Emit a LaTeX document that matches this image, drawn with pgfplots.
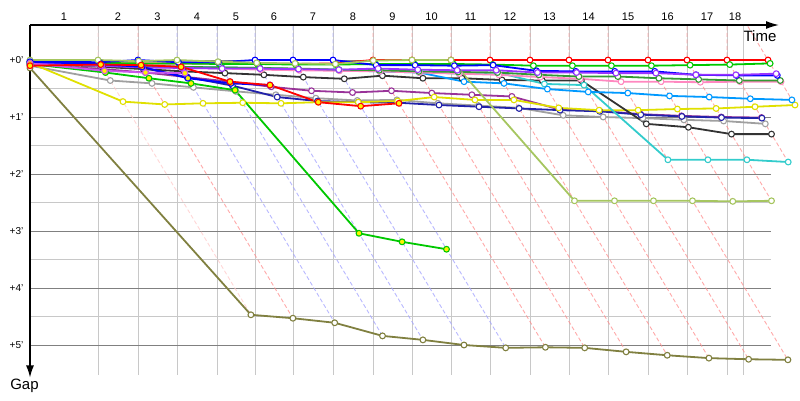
\documentclass[border=0pt]{standalone}
\usepackage{pgfplots}
\pgfplotsset{compat=1.18}
\usepackage{fontspec}
\setmainfont{Liberation Sans}
\usetikzlibrary{arrows.meta}
\definecolor{cRed}{HTML}{FF0000}
\definecolor{cYG}{HTML}{A6C660}
\definecolor{cBlue}{HTML}{0000FF}
\definecolor{cGreen}{HTML}{00C800}
\definecolor{cDGreen}{HTML}{339933}
\definecolor{cViolet}{HTML}{9933FF}
\definecolor{cPink}{HTML}{FF88C0}
\definecolor{cSky}{HTML}{0099FF}
\definecolor{cCyan}{HTML}{33CCCC}
\definecolor{cBlack}{HTML}{333333}
\definecolor{cYellow}{HTML}{E0E000}
\definecolor{cDBlue}{HTML}{2222AA}
\definecolor{cGray}{HTML}{A0A0A0}
\definecolor{cPurple}{HTML}{993399}
\definecolor{cMag}{HTML}{CC55EE}
\definecolor{cOlive}{HTML}{808040}
\definecolor{cGrid}{HTML}{C8C8C8}
\definecolor{cGridM}{HTML}{808080}
\tikzset{
  car/.style={line width=1.8pt, line join=round, mark=*, mark size=2.9pt, mark options={fill=white, line width=1.1pt, solid}},
  cary/.style={line width=1.8pt, line join=round, mark=*, mark size=2.9pt, mark options={fill=yellow, line width=1.1pt, solid}},
  lapR/.style={no marks, line width=0.9pt, dash pattern=on 4pt off 2.5pt, draw=red!45!white, draw opacity=0.75},
  lapL/.style={no marks, line width=0.9pt, dash pattern=on 4pt off 2.5pt, draw=red!20!white, draw opacity=0.8},
  lapB/.style={no marks, line width=0.9pt, dash pattern=on 4pt off 2.5pt, draw=blue!35!white, draw opacity=0.8},
}
\begin{document}
\begin{tikzpicture}
\begin{axis}[width=800pt, height=400pt, scale only axis,
  xmin=0, xmax=800, ymin=-1.052632, ymax=5.964912, y dir=reverse,
  axis lines=none, xtick=\empty, ytick=\empty, clip=false]
% grid
\pgfplotsinvokeforeach{98,138,177,217,255,293,333,373,412,451,490,530,569,608,648,687,727,743}{
  \draw[cGrid, line width=1pt] (axis cs:#1,-0.614) -- (axis cs:#1,5.526);}
\pgfplotsinvokeforeach{0.5,1.5,2.5,3.5,4.5}{
  \draw[cGrid, line width=1pt] (axis cs:30,#1) -- (axis cs:771,#1);}
\pgfplotsinvokeforeach{0,1,2,3,4,5}{
  \draw[cGridM, line width=1pt] (axis cs:30,#1) -- (axis cs:771,#1);}
% lap lines
\addplot[lapL] coordinates {(98,-0.59) (98,0) (250.9,4.47)};
\addplot[lapR] coordinates {(138,-0.59) (138,0) (292.9,4.53)};
\addplot[lapB] coordinates {(177,-0.59) (177,0) (334.7,4.61)};
\addplot[lapB] coordinates {(217,-0.59) (217,0) (382.5,4.84)};
\addplot[lapB] coordinates {(255,-0.59) (255,0) (422.9,4.91)};
\addplot[lapB] coordinates {(293,-0.59) (293,0) (464.0,5.00)};
\addplot[lapB] coordinates {(333,-0.59) (333,0) (505.7,5.05)};
\addplot[lapR] coordinates {(373,-0.59) (373,0) (545.4,5.04)};
\addplot[lapR] coordinates {(412,-0.59) (412,0) (584.7,5.05)};
\addplot[lapR] coordinates {(451,-0.59) (451,0) (626.1,5.12)};
\addplot[lapR] coordinates {(490,-0.59) (490,0) (667.2,5.18)};
\addplot[lapR] coordinates {(530,-0.59) (530,0) (708.9,5.23)};
\addplot[lapR] coordinates {(569,-0.59) (569,0) (748.6,5.25)};
\addplot[lapR] coordinates {(608,-0.59) (608,0) (787.9,5.26)};
\addplot[lapR] coordinates {(648,-0.59) (648,0) (732.8,2.48)};
\addplot[lapR] coordinates {(687,-0.59) (687,0) (771.5,2.47)};
\addplot[lapR] coordinates {(727,-0.59) (727,0) (788.2,1.79)};
\addplot[lapR] coordinates {(747.8,-0.59) (768,0) (795.0,0.79)};
% cars
\addplot[car, cOlive] coordinates {(30,0.14) (250.9,4.47) (292.9,4.53) (334.7,4.61) (382.5,4.84) (422.9,4.91) (464.0,5.00) (505.7,5.05) (545.4,5.04) (584.7,5.05) (626.1,5.12) (667.2,5.18) (708.9,5.23) (748.6,5.25) (787.9,5.26)};
\addplot[car, cRed] coordinates {(30,0.04) (100.1,0.06) (140.1,0.06) (179.1,0.06) (219.1,0.06) (257.1,0.06) (295.4,0.07) (335.1,0.06) (373,0.0) (412,0.0) (451,0.0) (490,0.0) (530,0.0) (569,0.0) (608,0.0) (648,0.0) (687,0.0) (727,0.0) (768,0.0)};
\addplot[car, cGray] coordinates {(30,0.10) (110.3,0.36) (152.0,0.41) (193.4,0.48) (235.8,0.55) (275.9,0.61) (315.9,0.67) (357.3,0.71) (396.9,0.70) (438.0,0.76) (478.4,0.80) (518.7,0.84) (563.2,0.97) (603.2,1.00) (642.9,1.02) (683.9,1.05) (723.6,1.07) (765.3,1.12)};
\addplot[car, cPurple] coordinates {(30,0.08) (103.5,0.16) (145.5,0.22) (187.3,0.30) (230.0,0.38) (271.1,0.47) (311.5,0.54) (352.5,0.57) (391.5,0.54) (431.8,0.58) (471.9,0.61) (511.9,0.64) (559.8,0.87) (599.4,0.89) (640.5,0.95) (681.5,0.98) (721.2,1.00) (761.5,1.01)};
\addplot[car, cDBlue] coordinates {(30,0.04) (100.1,0.06) (142.8,0.14) (187.3,0.30) (232.4,0.45) (277.2,0.65) (317.6,0.72) (358.3,0.74) (398.7,0.75) (439.0,0.79) (479.0,0.82) (519.1,0.85) (560.1,0.88) (599.8,0.90) (640.8,0.96) (681.9,0.99) (721.5,1.01) (761.9,1.02)};
\addplot[car, cYellow] coordinates {(30,0.05) (123.0,0.73) (164.7,0.78) (203.0,0.76) (242.7,0.75) (281.0,0.76) (318.3,0.74) (358.3,0.74) (397.6,0.72) (434.2,0.65) (474.9,0.70) (513.9,0.70) (558.7,0.84) (599.1,0.88) (638.1,0.88) (677.4,0.86) (716.1,0.85) (755.0,0.82) (795.0,0.79)};
\addplot[car, cBlack] coordinates {(30,0.06) (102.1,0.12) (143.5,0.16) (183.8,0.20) (224.9,0.23) (263.9,0.26) (303.3,0.30) (344.3,0.33) (382.4,0.275) (422.9,0.32) (461.9,0.32) (502.0,0.35) (542.3,0.36) (581.3,0.36) (646.3,1.12) (688.4,1.18) (731.5,1.30) (771.5,1.30)};
\addplot[car, cCyan] coordinates {(30,0.07) (101.1,0.09) (141.4,0.10) (181.1,0.12) (221.4,0.13) (259.8,0.14) (298.5,0.16) (338.8,0.17) (379.5,0.19) (419.2,0.21) (459.2,0.24) (497.5,0.22) (544.4,0.42) (584.0,0.44) (667.9,1.75) (707.9,1.75) (746.9,1.75) (788.2,1.79)};
\addplot[car, cSky] coordinates {(30,0.06) (101.4,0.10) (141.8,0.11) (181.4,0.13) (221.8,0.14) (260.1,0.15) (298.5,0.16) (339.2,0.18) (379.8,0.20) (419.5,0.22) (464.0,0.38) (504.0,0.41) (547.4,0.51) (588.2,0.56) (627.8,0.58) (669.5,0.63) (709.2,0.65) (750.3,0.68) (791.9,0.70)};
\addplot[car, cPink] coordinates {(30,0.08) (101.4,0.10) (142.1,0.12) (181.8,0.14) (222.1,0.15) (260.8,0.17) (299.2,0.18) (339.5,0.19) (379.8,0.20) (419.5,0.22) (459.2,0.24) (498.9,0.26) (540.3,0.30) (580.3,0.33) (621.0,0.38) (661.0,0.38) (700.3,0.39) (740.0,0.38) (781.0,0.38)};
\addplot[car, cDGreen] coordinates {(30,0.06) (100.7,0.08) (141.4,0.10) (181.1,0.12) (221.4,0.13) (259.8,0.14) (298.1,0.15) (338.8,0.17) (379.2,0.18) (418.8,0.20) (458.2,0.21) (497.5,0.22) (538.9,0.26) (578.9,0.29) (617.9,0.29) (658.9,0.32) (698.6,0.34) (739.3,0.36) (780.3,0.36)};
\addplot[car, cGreen] coordinates {(30,0.04) (99.7,0.05) (140.1,0.06) (179.1,0.06) (219.4,0.07) (257.4,0.07) (295.7,0.08) (335.7,0.08) (375.4,0.07) (414.4,0.07) (453.4,0.07) (492.7,0.08) (533.4,0.10) (572.4,0.10) (611.4,0.10) (651.4,0.10) (690.1,0.09) (729.7,0.08) (770.1,0.06)};
\addplot[car, cBlue] coordinates {(30,0.02) (99.4,0.04) (138,0.0) (178.4,0.04) (218.4,0.04) (255,0.0) (293,0.0) (333,0.0) (376.1,0.09) (415.1,0.09) (454.4,0.10) (493.1,0.09) (536.5,0.19) (575.8,0.20) (614.8,0.20) (654.8,0.20) (696.0,0.26) (736.3,0.27) (777.3,0.27)};
\addplot[car, cViolet] coordinates {(30,0.05) (101.4,0.10) (142.4,0.13) (181.8,0.14) (222.1,0.15) (260.1,0.15) (298.5,0.16) (338.8,0.17) (378.1,0.15) (417.8,0.17) (457.2,0.18) (496.2,0.18) (537.5,0.22) (576.5,0.22) (615.9,0.23) (655.9,0.23) (695.9,0.26) (735.9,0.26) (776.2,0.24)};
\addplot[car, cYG] coordinates {(30,0.0) (98,0.0) (138.7,0.02) (177,0.0) (218.0,0.03) (256.7,0.05) (295.1,0.06) (335.4,0.07) (373.3,0.01) (412,0.0) (451,0.0) (574.5,2.47) (614.5,2.47) (653.5,2.47) (692.5,2.47) (732.8,2.48) (771.5,2.47)};
\addplot[cary, cGreen] coordinates {(30,0.07) (105.5,0.22) (148.9,0.32) (191.0,0.41) (235.1,0.53) (359.0,3.04) (402.1,3.19) (446.5,3.32)};
\addplot[cary, cBlue] coordinates {(30,0.03) (100.6,0.075) (142.1,0.12) (187.9,0.32) (231.0,0.41) (270.0,0.44)};
\addplot[cary, cMag] coordinates {(30,0.06) (104.5,0.19) (145.5,0.22) (184.9,0.23)};
\addplot[cary, cRed] coordinates {(30,0.10) (100.7,0.08) (141.1,0.09) (181.1,0.12) (230.0,0.38) (270.0,0.44) (318.3,0.74) (360.7,0.81) (399.0,0.76)};
% axes
\draw[black, line width=1.3pt, -{Latex[length=13pt,width=8pt]}] (axis cs:30,-0.614) -- (axis cs:779,-0.614);
\draw[black, line width=1.3pt, -{Latex[length=12pt,width=8pt]}] (axis cs:30,-0.614) -- (axis cs:30,5.57);
% labels
\pgfplotsinvokeforeach{0,1,2,3,4,5}{
  \node[anchor=east, font=\fontsize{10}{12}\selectfont, inner sep=0pt] at (axis cs:23.5,#1) {+#1'};}
\node[font=\fontsize{11}{13}\selectfont] at (axis cs:64,-0.754) {1};
\node[font=\fontsize{11}{13}\selectfont] at (axis cs:118,-0.754) {2};
\node[font=\fontsize{11}{13}\selectfont] at (axis cs:157.5,-0.754) {3};
\node[font=\fontsize{11}{13}\selectfont] at (axis cs:197,-0.754) {4};
\node[font=\fontsize{11}{13}\selectfont] at (axis cs:236,-0.754) {5};
\node[font=\fontsize{11}{13}\selectfont] at (axis cs:274,-0.754) {6};
\node[font=\fontsize{11}{13}\selectfont] at (axis cs:313,-0.754) {7};
\node[font=\fontsize{11}{13}\selectfont] at (axis cs:353,-0.754) {8};
\node[font=\fontsize{11}{13}\selectfont] at (axis cs:392.5,-0.754) {9};
\node[font=\fontsize{11}{13}\selectfont] at (axis cs:431.5,-0.754) {10};
\node[font=\fontsize{11}{13}\selectfont] at (axis cs:470.5,-0.754) {11};
\node[font=\fontsize{11}{13}\selectfont] at (axis cs:510,-0.754) {12};
\node[font=\fontsize{11}{13}\selectfont] at (axis cs:549.5,-0.754) {13};
\node[font=\fontsize{11}{13}\selectfont] at (axis cs:588.5,-0.754) {14};
\node[font=\fontsize{11}{13}\selectfont] at (axis cs:628,-0.754) {15};
\node[font=\fontsize{11}{13}\selectfont] at (axis cs:667.5,-0.754) {16};
\node[font=\fontsize{11}{13}\selectfont] at (axis cs:707,-0.754) {17};
\node[font=\fontsize{11}{13}\selectfont] at (axis cs:735,-0.754) {18};
\node[font=\fontsize{15}{18}\selectfont, inner sep=0pt] at (axis cs:760,-0.42) {Time};
\node[font=\fontsize{15}{18}\selectfont, inner sep=0pt] at (axis cs:24.5,5.72) {Gap};
\end{axis}
\pgfresetboundingbox
\useasboundingbox (current axis.south west) rectangle (current axis.north east);
\end{tikzpicture}
\end{document}
